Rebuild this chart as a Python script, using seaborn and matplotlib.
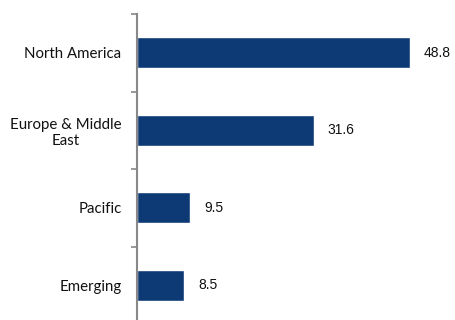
import matplotlib
matplotlib.use("Agg")
import matplotlib.pyplot as plt
import seaborn as sns
import pandas as pd

# data
regions = ["North America", "Europe & Middle\nEast", "Pacific", "Emerging"]
values = [48.8, 31.6, 9.5, 8.5]

df = pd.DataFrame({"region": regions, "value": values})

sns.set_style("white")
plt.rcParams["font.family"] = ["Lato", "DejaVu Sans"]

fig = plt.figure(figsize=(4.56, 3.2), dpi=100)
ax = fig.add_axes([0.300, -0.0125, 0.69, 0.9685])

sns.barplot(data=df, x="value", y="region", color="#0d3a75", width=0.4,
            saturation=1, ax=ax)

ax.set_xlim(0, 56.2)
ax.set_ylim(3.5, -0.5)
ax.set_xlabel("")
ax.set_ylabel("")

# value labels
for c in ax.containers:
    ax.bar_label(c, labels=[f"{v:.1f}" for v in values], padding=10,
                 fontsize=10, family="Liberation Sans", color="#111111")

# category labels without tick marks, boundary ticks as minor
ax.set_yticks(range(len(regions)))
ax.set_yticklabels(regions, fontsize=10.8, color="#111111",
                   multialignment="center")
ax.tick_params(axis="y", which="major", length=0, pad=11)
ax.set_yticks([-0.5, 0.5, 1.5, 2.5, 3.5], minor=True)
ax.tick_params(axis="y", which="minor", left=True, length=4, width=1.2,
               color="#888888", direction="out")
ax.set_xticks([])

for s in ["top", "right", "bottom"]:
    ax.spines[s].set_visible(False)
ax.spines["left"].set_color("#888888")
ax.spines["left"].set_linewidth(1.5)

fig.savefig("out.png", dpi=100)
